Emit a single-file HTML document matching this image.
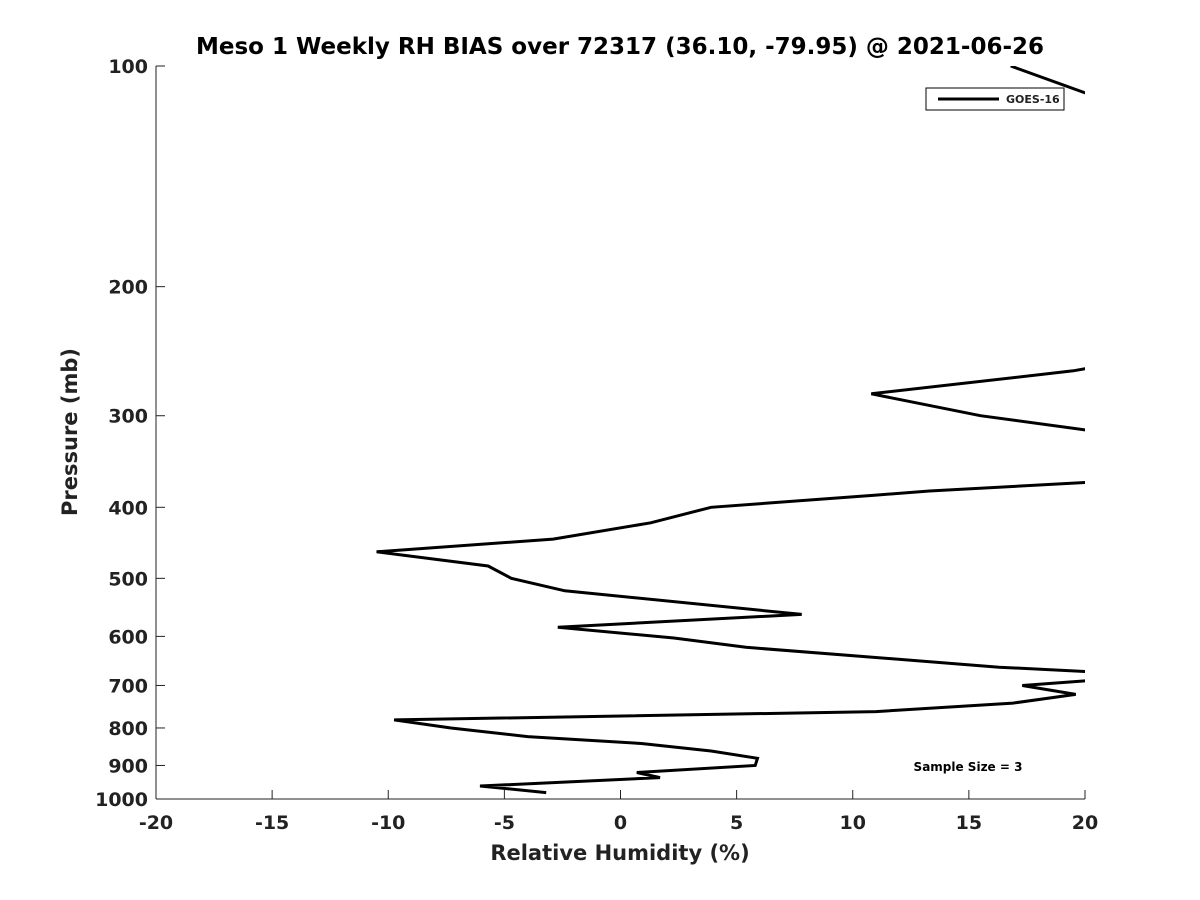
<!DOCTYPE html>
<html><head><meta charset="utf-8"><style>
body{margin:0;background:#fff;}
svg{display:block;font-family:"DejaVu Sans","Liberation Sans",sans-serif;font-weight:bold;}
</style></head><body>
<svg width="1200" height="900" xmlns="http://www.w3.org/2000/svg">
<defs><clipPath id="plotclip"><rect x="156" y="66" width="929" height="733"/></clipPath></defs>
<text x="620" y="54" text-anchor="middle" font-size="23" fill="#000">Meso 1 Weekly RH BIAS over 72317 (36.10, -79.95) @ 2021-06-26</text>
<g id="axes"></g>
<g id="series" clip-path="url(#plotclip)"></g>
<g>
<rect x="926" y="88" width="138" height="22" fill="#fff" stroke="#000" stroke-width="1"/>
<line x1="938" y1="99" x2="999" y2="99" stroke="#000" stroke-width="3"/>
<text x="1006" y="103" font-size="11" fill="#222">GOES-16</text>
</g>
<text x="968" y="771" text-anchor="middle" font-size="12" fill="#000">Sample Size = 3</text>
<text x="620" y="860" text-anchor="middle" font-size="21" fill="#222">Relative Humidity (%)</text>
<text transform="translate(77,432) rotate(-90)" text-anchor="middle" font-size="21" fill="#222">Pressure (mb)</text>
</svg>
<script>
const xTicks=[-20,-15,-10,-5,0,5,10,15,20];
const yTicks=[100,200,300,400,500,600,700,800,900,1000];
const rhBias=[16.8,20,25,25,20,19.5,10.8,15.5,20,25,25,20,13.3,11,3.9,1.3,-2.9,-10.5,-5.7,-4.7,-2.4,7.8,-2.7,2.3,5.4,16.3,20,21,21,20,17.3,19.6,16.9,11,-9.75,-7.3,-4,0.9,3.9,5.9,5.8,0.7,1.7,-6.05,-3.2];
const pressure=[100,108.8,120,255,258.8,260.5,280,300,313.7,320,365,370,380,385,400,420,442,460,481,500,520,560,583,603,621,661,670,675,686,690,700,720,740,760,780,800,822,840,860,880,900,920,935,960,980];
const X0=156,X1=1085,Y0=66,Y1=799;
function xs(v){return X0+(v+20)/40*(X1-X0);}
function ys(p){return Y0+Math.log10(p/100)*(Y1-Y0);}
const NS="http://www.w3.org/2000/svg";
const axes=document.getElementById('axes');
function mk(tag,attrs,parent){const e=document.createElementNS(NS,tag);for(const k in attrs)e.setAttribute(k,attrs[k]);parent.appendChild(e);return e;}
const yl=mk('line',{x1:X0,y1:Y0,x2:X0,y2:Y1,stroke:'#222','stroke-width':1},axes);


const xl=mk('line',{x1:X0,y1:Y1,x2:X1,y2:Y1,stroke:'#222','stroke-width':1},axes);


xTicks.forEach(v=>{
 const x=xs(v);
 const t=mk('line',{x1:x,y1:Y1,x2:x,y2:Y1-9,stroke:'#222'},axes);
 
 
 const l=mk('text',{x:x,y:Y1+30,'text-anchor':'middle','font-size':19,fill:'#222'},axes);
 l.textContent=v;
 
 
});
yTicks.forEach(p=>{
 const y=ys(p);
 const t=mk('line',{x1:X0,y1:y,x2:X0+9,y2:y,stroke:'#222'},axes);
 
 
 const l=mk('text',{x:X0-8,y:y+7,'text-anchor':'end','font-size':19,fill:'#222'},axes);
 l.textContent=p;
 
 
});
const pts=rhBias.map((v,i)=>xs(v).toFixed(1)+','+ys(pressure[i]).toFixed(1)).join(' ');
const pl=mk('polyline',{points:pts,fill:'none',stroke:'#000','stroke-width':3,'stroke-linejoin':'miter'},document.getElementById('series'));


</script>
</body></html>
